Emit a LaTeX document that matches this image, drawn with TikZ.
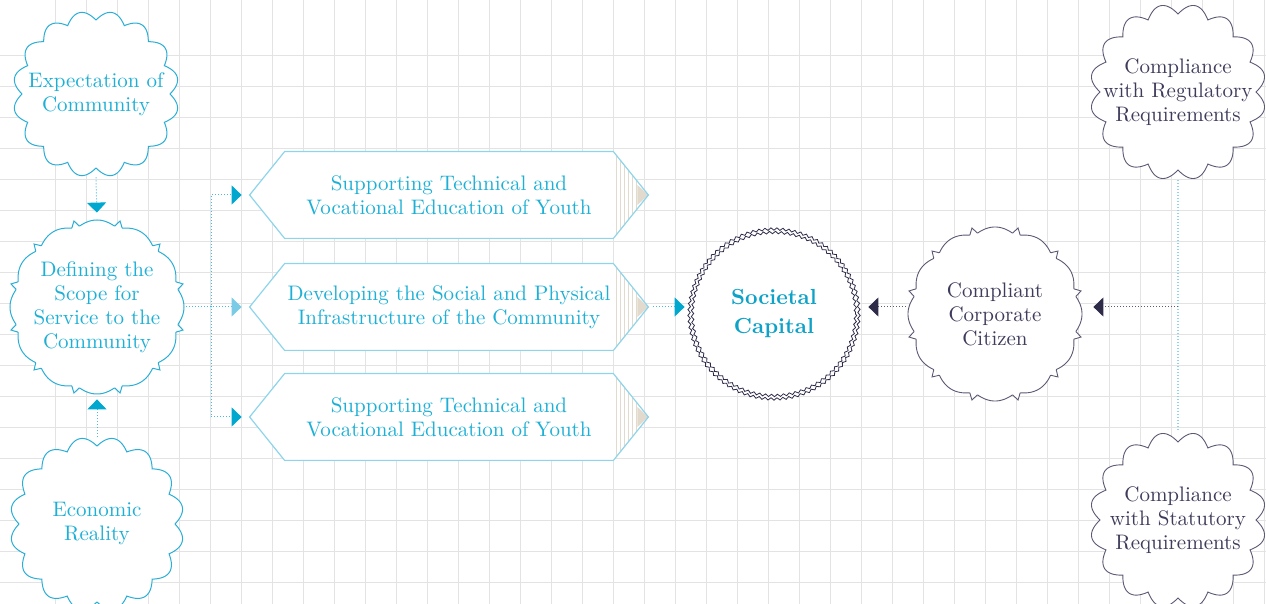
\documentclass[tikz,border=0pt]{standalone}
\usepackage{fontspec}
\usetikzlibrary{arrows.meta,calc,decorations.pathmorphing}

\definecolor{skytext}{HTML}{1DB0D6}
\definecolor{skyline}{HTML}{2AAED6}
\definecolor{skyarrow}{HTML}{00A7CF}
\definecolor{skypale}{HTML}{79CBE6}
\definecolor{hexedge}{HTML}{8ED5EC}
\definecolor{navytext}{HTML}{3E3C5B}
\definecolor{navyline}{HTML}{5B5A74}
\definecolor{navyarrow}{HTML}{2D2B48}
\definecolor{sand}{HTML}{E2DACD}
\definecolor{gridgray}{HTML}{E3E3E3}
\definecolor{capblue}{HTML}{0EA2C8}

\pgfdeclarelayer{gridlayer}
\pgfdeclarelayer{background}
\pgfsetlayers{gridlayer,background,main}

% scalloped outline: base radius, bump height, number of bumps
\newcommand{\scallop}[3]{plot[domain=0:360,samples=481,variable=\t] (\t:{#1+#2*abs(sin(#3*\t/2))}) -- cycle}
% scalloped outline with small teeth between the arcs
\newcommand{\seal}[3]{plot[domain=0:360,samples=721,variable=\t] (\t:{#1+#2*abs(sin(6*(\t-15)))+#3*max(0,1-abs(sin(6*(\t-15)))/0.28)}) -- cycle}

\tikzset{
  ringnode/.style={circle, inner sep=0pt, minimum size=#1},
  hexnode/.style={rectangle, inner sep=0pt, minimum width=164pt, minimum height=43pt},
  skytxt/.style={align=center, text=skytext, font=\fontsize{10.5}{12}\selectfont},
  navytxt/.style={align=center, text=navytext, font=\fontsize{10.5}{12}\selectfont},
  captxt/.style={align=center, text=capblue, font=\fontsize{10.9}{14.5}\selectfont\bfseries},
  skycloud/.style={draw=skyline, line width=0.5pt, fill=white},
  navycloud/.style={draw=navyline, line width=0.45pt, fill=white},
  hexline/.style={draw=hexedge, line width=0.6pt},
  stripe/.style={draw=sand, line width=0.5pt},
  gridline/.style={draw=gridgray, line width=0.8pt},
  zigring/.style={draw=navyarrow, line width=0.4pt, decorate, decoration={zigzag, segment length=3pt, amplitude=0.6pt}},
  dotsky/.style={draw=skyline!85, line width=0.5pt, dash pattern=on 0.5pt off 1pt},
  dotnavy/.style={draw=navyline, line width=0.5pt, dash pattern=on 0.5pt off 1pt},
  dotpale/.style={draw=hexedge, line width=0.6pt, dash pattern=on 0.5pt off 1pt},
  tipsky/.style={-{Triangle[length=5pt,width=9.5pt,color=skyarrow]}},
  tippale/.style={-{Triangle[length=5pt,width=9.5pt,color=skypale]}},
  tipnavy/.style={-{Triangle[length=5pt,width=9.5pt,color=navyarrow]}}
}

\begin{document}
\begin{tikzpicture}[x=0.5pt, y=-0.5pt]
  \useasboundingbox (0,0) rectangle (1266,604);

  % Draw the nodes
  \node[ringnode=83pt, skytxt] (expect) at (96,94) {Expectation of\\Community};
  \node[ringnode=89pt, skytxt] (define) at (97,307) {Defining the\\Scope for\\Service to the\\Community};
  \node[ringnode=87pt, skytxt] (econ) at (97,524) {Economic\\Reality};
  \node[hexnode, skytxt] (hexA) at (449,195) {Supporting Technical and\\Vocational Education of Youth};
  \node[hexnode, skytxt] (hexB) at (449,307) {Developing the Social and Physical\\Infrastructure of the Community};
  \node[hexnode, skytxt] (hexC) at (449,417) {Supporting Technical and\\Vocational Education of Youth};
  \node[ringnode=86pt, captxt] (soc) at (774,314) {Societal\\Capital};
  \node[ringnode=89pt, navytxt] (citizen) at (995,314) {Compliant\\Corporate\\Citizen};
  \node[ringnode=88pt, navytxt] (reg) at (1178,92) {Compliance\\with Regulatory\\Requirements};
  \node[ringnode=88pt, navytxt] (stat) at (1178,520) {Compliance\\with Statutory\\Requirements};

  % Draw the grid
  \begin{pgfonlayer}{gridlayer}
    \foreach \gx in {0,...,39}
      \draw[gridline] ({55.3+31*\gx},0) -- ({55.3+31*\gx},604);
    \foreach \gy in {0,...,17}
      \draw[gridline] (0,{55.7+31*\gy}) -- (1266,{55.7+31*\gy});
  \end{pgfonlayer}

  % Draw the outlines
  \begin{pgfonlayer}{background}
    \draw[skycloud, shift={(expect.center)}] \scallop{74}{9}{16};
    \draw[skycloud, shift={(econ.center)}] \scallop{78}{9}{16};
    \draw[skycloud, shift={(define.center)}] \seal{81}{6}{8};
    \draw[navycloud, shift={(citizen.center)}] \seal{81}{6}{8};
    \draw[navycloud, shift={(reg.center)}] \scallop{78}{10}{16};
    \draw[navycloud, shift={(stat.center)}] \scallop{78}{10}{16};

    \fill[white] (soc) circle[radius=85];
    \draw[zigring] (soc) circle[radius=85];
    \draw[zigring] (soc) circle[radius=81.5];

    \foreach \h/\l/\r in {hexA/inA/outA, hexB/inB/outB, hexC/inC/outC} {
      \coordinate (\l) at ($(\h.west)+(-35,0)$);
      \coordinate (\r) at ($(\h.east)+(35,0)$);
      \fill[white] (\h.north west) -- (\h.north east) -- (\r) -- (\h.south east) -- (\h.south west) -- (\l) -- cycle;
      \begin{scope}
        \clip (\h.north east) -- (\r) -- (\h.south east) -- cycle;
        \foreach \s in {3,7,...,23}
          \draw[stripe] ($(\h.north east)+(\s,0)$) -- ($(\h.south east)+(\s,0)$);
      \end{scope}
      \fill[sand] ($(\r)+(-11,-10)$) -- (\r) -- ($(\r)+(-11,10)$) -- cycle;
      \draw[hexline] (\h.north west) -- (\h.north east) -- (\r) -- (\h.south east) -- (\h.south west) -- (\l) -- cycle;
    }
  \end{pgfonlayer}

  % Draw the connectors
  \draw[dotsky, tipsky, shorten >=2.5pt] (expect.south) -- (define.north);
  \draw[dotsky, tipsky, shorten >=1.5pt] (econ.north) -- (define.south);
  \draw[dotsky, tippale, shorten >=4pt] (define.east) -- (inB);
  \draw[dotsky, tipsky, shorten >=4pt] (define.east) -- ++(25,0) |- (inA);
  \draw[dotsky, tipsky, shorten >=4pt] (define.east) -- ++(25,0) |- (inC);
  \draw[dotsky, tipsky, shorten <=2.5pt, shorten >=1.5pt] (outB) -- (outB -| soc.west);
  \draw[dotnavy, tipnavy, shorten >=4pt] (outB -| citizen.west) -- (outB -| soc.east);
  \draw[dotpale] (reg.south) -- (stat.north);
  \draw[dotnavy, tipnavy, shorten >=4.5pt] (outB -| reg.south) -- (outB -| citizen.east);
\end{tikzpicture}
\end{document}
